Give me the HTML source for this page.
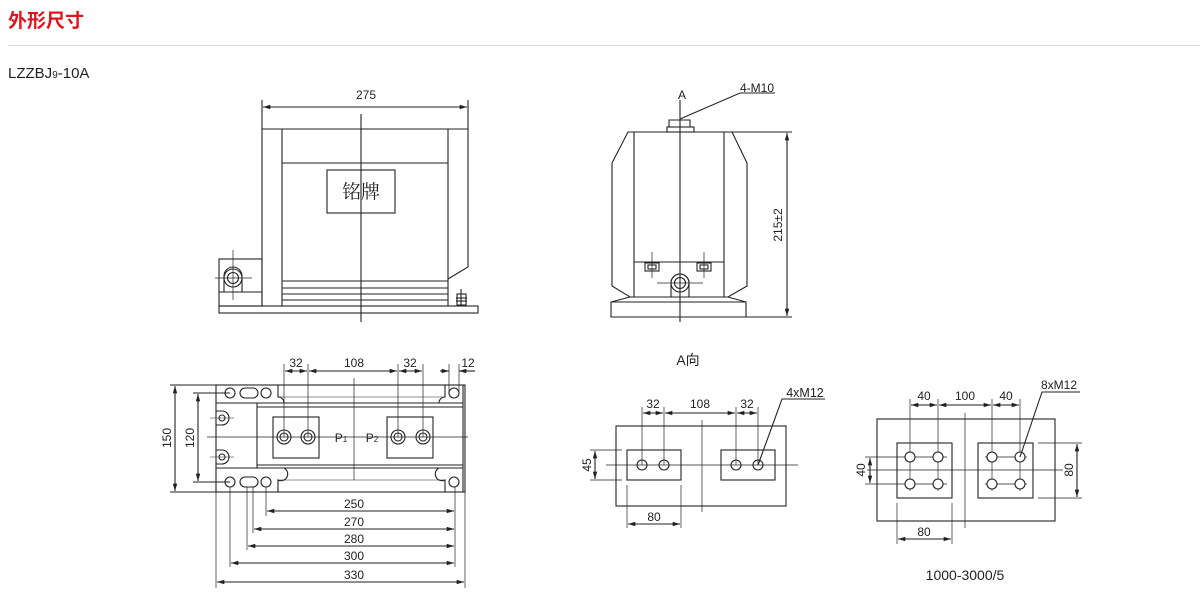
<!DOCTYPE html>
<html><head><meta charset="utf-8"><style>
body{margin:0;width:1200px;height:595px;background:#fff;overflow:hidden}
svg{display:block}
text{font-family:"Liberation Sans","Noto Sans CJK SC",sans-serif;fill:#222}
</style></head><body>
<svg width="1200" height="595" viewBox="0 0 1200 595" xmlns="http://www.w3.org/2000/svg">
<defs>
<marker id="a" viewBox="0 0 10 6" refX="10" refY="3" markerWidth="8" markerHeight="4" orient="auto-start-reverse"><path d="M0,0L10,3L0,6z" fill="#222"/></marker>
</defs>
<text x="8" y="27" font-size="19" font-weight="bold" style="fill:#e0141e">外形尺寸</text>
<line x1="8" y1="45.5" x2="1200" y2="45.5" stroke="#ddd"/>
<text x="8" y="78" font-size="15">LZZBJ<tspan font-size="10">9</tspan>-10A</text>

<g stroke="#222" fill="none" stroke-width="1.1">
<!-- front view -->
<line x1="262" y1="100" x2="262" y2="129"/><line x1="468" y1="100" x2="468" y2="129"/>
<line x1="263" y1="107" x2="467" y2="107" marker-start="url(#a)" marker-end="url(#a)"/>
<path d="M262,129H468V267L448,279"/>
<line x1="262" y1="129" x2="262" y2="306"/>
<line x1="282" y1="129" x2="282" y2="306"/><line x1="448" y1="129" x2="448" y2="306"/>
<line x1="282" y1="163" x2="448" y2="163"/>
<rect x="327" y="170" width="68" height="43"/>
<line x1="282" y1="281" x2="448" y2="281"/><line x1="282" y1="288" x2="448" y2="288"/>
<line x1="282" y1="294" x2="448" y2="294"/><line x1="282" y1="300" x2="448" y2="300"/>
<rect x="219" y="306" width="259" height="7"/>
<rect x="219" y="259" width="43" height="47"/>
<line x1="219" y1="292" x2="262" y2="292"/>
<path d="M224,292V276A9,9 0 0 1 242,276V292"/>
<circle cx="233" cy="278" r="9"/><circle cx="233" cy="278" r="5.5"/>
<line x1="215" y1="278" x2="252" y2="278" stroke-width=".7"/><line x1="233" y1="250" x2="233" y2="300" stroke-width=".7"/>
<line x1="361" y1="114" x2="361" y2="322"/>
<rect x="457" y="294" width="9" height="11"/><line x1="461" y1="289" x2="461" y2="306"/>
<line x1="456" y1="298" x2="467" y2="298"/><line x1="456" y1="301" x2="467" y2="301"/>

<!-- side view -->
<path d="M680,119L740,93H775"/>
<path d="M669,127V120H690V127"/><rect x="667" y="127" width="27" height="5"/>
<path d="M628,132H732L747,163V286L728,297H630L612,286V163Z"/>
<line x1="634" y1="132" x2="634" y2="297"/><line x1="724" y1="132" x2="724" y2="297"/>
<line x1="634" y1="262" x2="724" y2="262"/>
<rect x="645" y="263" width="14" height="8"/><rect x="648" y="265" width="8" height="4"/>
<rect x="697" y="263" width="14" height="8"/><rect x="700" y="265" width="8" height="4"/>
<line x1="652" y1="252" x2="652" y2="278" stroke-width=".7"/><line x1="704" y1="252" x2="704" y2="278" stroke-width=".7"/>
<path d="M671,297V283A9,9 0 0 1 689,283V297"/>
<circle cx="680" cy="283" r="9"/><circle cx="680" cy="283" r="5.5"/>
<line x1="657" y1="283" x2="703" y2="283" stroke-width=".7"/>
<path d="M630,297L611,302V317H746V302L728,297"/>
<line x1="611" y1="302" x2="746" y2="302"/>
<line x1="680" y1="100" x2="680" y2="322"/>
<line x1="732" y1="132" x2="792" y2="132"/><line x1="746" y1="317" x2="792" y2="317"/>
<line x1="787" y1="133" x2="787" y2="316" marker-start="url(#a)" marker-end="url(#a)"/>

<!-- bottom view -->
<rect x="216" y="385" width="249" height="107"/>
<line x1="216" y1="403" x2="463" y2="403"/><line x1="216" y1="468" x2="463" y2="468"/>
<line x1="257" y1="407" x2="463" y2="407"/><line x1="257" y1="465" x2="463" y2="465"/>
<line x1="257" y1="403" x2="257" y2="468"/><line x1="463" y1="385" x2="463" y2="492"/>
<path d="M278,385V397A6,6 0 0 1 284,403"/><path d="M445,385V397A6,6 0 0 0 439,403"/>
<line x1="278" y1="397" x2="445" y2="397" stroke-width=".6"/>
<path d="M278,492V480A6,6 0 0 0 284,468"/><path d="M445,492V480A6,6 0 0 1 439,468"/>
<line x1="278" y1="480" x2="445" y2="480" stroke-width=".6"/>
<circle cx="230" cy="393" r="5"/><rect x="240" y="388" width="18" height="10" rx="5"/><circle cx="266" cy="393" r="5"/><circle cx="454" cy="393" r="5"/>
<circle cx="230" cy="482" r="5"/><rect x="240" y="477" width="18" height="10" rx="5"/><circle cx="266" cy="482" r="5"/><circle cx="454" cy="482" r="5"/>
<path d="M216,411H222A7,7 0 0 1 222,425H216"/><circle cx="222" cy="418" r="3"/>
<path d="M216,450H222A7,7 0 0 1 222,464H216"/><circle cx="222" cy="457" r="3"/>
<line x1="210" y1="418" x2="234" y2="418" stroke-width=".6"/><line x1="210" y1="457" x2="234" y2="457" stroke-width=".6"/>
<rect x="273" y="417" width="46" height="41"/><rect x="387" y="417" width="46" height="41"/>
<circle cx="284" cy="437" r="7"/><circle cx="284" cy="437" r="4"/><circle cx="308" cy="437" r="7"/><circle cx="308" cy="437" r="4"/>
<circle cx="398" cy="437" r="7"/><circle cx="398" cy="437" r="4"/><circle cx="423" cy="437" r="7"/><circle cx="423" cy="437" r="4"/>
<line x1="207" y1="437" x2="468" y2="437" stroke-width=".7"/><line x1="354" y1="378" x2="354" y2="480" stroke-width=".7"/>
<line x1="284" y1="364" x2="284" y2="437" stroke-width=".7"/><line x1="308" y1="364" x2="308" y2="437" stroke-width=".7"/>
<line x1="398" y1="364" x2="398" y2="437" stroke-width=".7"/><line x1="423" y1="364" x2="423" y2="437" stroke-width=".7"/>
<line x1="449" y1="364" x2="449" y2="393" stroke-width=".7"/><line x1="459" y1="364" x2="459" y2="393" stroke-width=".7"/>
<line x1="285" y1="371" x2="307" y2="371" marker-start="url(#a)" marker-end="url(#a)"/>
<line x1="309" y1="371" x2="397" y2="371" marker-start="url(#a)" marker-end="url(#a)"/>
<line x1="399" y1="371" x2="422" y2="371" marker-start="url(#a)" marker-end="url(#a)"/>
<line x1="440" y1="371" x2="449" y2="371" marker-end="url(#a)"/><line x1="459" y1="371" x2="475" y2="371" marker-start="url(#a)"/>
<line x1="170" y1="385" x2="216" y2="385"/><line x1="170" y1="492" x2="216" y2="492"/>
<line x1="175" y1="386" x2="175" y2="491" marker-start="url(#a)" marker-end="url(#a)"/>
<line x1="193" y1="393" x2="230" y2="393"/><line x1="193" y1="482" x2="230" y2="482"/>
<line x1="198" y1="394" x2="198" y2="481" marker-start="url(#a)" marker-end="url(#a)"/>
<line x1="266" y1="487" x2="266" y2="516" stroke-width=".7"/>
<line x1="253" y1="487" x2="253" y2="533" stroke-width=".7"/>
<line x1="247" y1="487" x2="247" y2="550" stroke-width=".7"/>
<line x1="230" y1="487" x2="230" y2="567" stroke-width=".7"/>
<line x1="216" y1="492" x2="216" y2="588" stroke-width=".7"/>
<line x1="465" y1="492" x2="465" y2="588" stroke-width=".7"/>
<line x1="455" y1="487" x2="455" y2="567" stroke-width=".7"/>
<line x1="267" y1="511" x2="454" y2="511" marker-start="url(#a)" marker-end="url(#a)"/>
<line x1="254" y1="529" x2="454" y2="529" marker-start="url(#a)" marker-end="url(#a)"/>
<line x1="248" y1="546" x2="454" y2="546" marker-start="url(#a)" marker-end="url(#a)"/>
<line x1="231" y1="563" x2="454" y2="563" marker-start="url(#a)" marker-end="url(#a)"/>
<line x1="217" y1="582" x2="464" y2="582" marker-start="url(#a)" marker-end="url(#a)"/>

<!-- A view -->
<rect x="616" y="426" width="170" height="80"/>
<rect x="627" y="450" width="54" height="30"/><rect x="721" y="450" width="54" height="30"/>
<circle cx="642" cy="465" r="5"/><circle cx="664" cy="465" r="5"/><circle cx="736" cy="465" r="5"/><circle cx="758" cy="465" r="5"/>
<line x1="606" y1="465" x2="798" y2="465" stroke-width=".7"/><line x1="702" y1="420" x2="702" y2="512" stroke-width=".7"/>
<line x1="642" y1="407" x2="642" y2="465" stroke-width=".7"/><line x1="664" y1="407" x2="664" y2="465" stroke-width=".7"/>
<line x1="736" y1="407" x2="736" y2="465" stroke-width=".7"/><line x1="758" y1="407" x2="758" y2="465" stroke-width=".7"/>
<line x1="643" y1="413" x2="663" y2="413" marker-start="url(#a)" marker-end="url(#a)"/>
<line x1="665" y1="413" x2="735" y2="413" marker-start="url(#a)" marker-end="url(#a)"/>
<line x1="737" y1="413" x2="757" y2="413" marker-start="url(#a)" marker-end="url(#a)"/>
<path d="M758,465L782,399H825"/>
<line x1="590" y1="450" x2="622" y2="450" stroke-width=".7"/><line x1="590" y1="480" x2="622" y2="480" stroke-width=".7"/>
<line x1="595" y1="451" x2="595" y2="479" marker-start="url(#a)" marker-end="url(#a)"/>
<line x1="627" y1="485" x2="627" y2="528" stroke-width=".7"/><line x1="681" y1="485" x2="681" y2="528" stroke-width=".7"/>
<line x1="628" y1="524" x2="680" y2="524" marker-start="url(#a)" marker-end="url(#a)"/>

<!-- 1000-3000 view -->
<rect x="877" y="419" width="178" height="102"/>
<rect x="897" y="443" width="55" height="55"/><rect x="978" y="443" width="55" height="55"/>
<g stroke-width=".7">
<line x1="867" y1="470" x2="1063" y2="470"/><line x1="965" y1="413" x2="965" y2="528"/>
<line x1="910" y1="399" x2="910" y2="491"/><line x1="938" y1="399" x2="938" y2="491"/>
<line x1="992" y1="399" x2="992" y2="491"/><line x1="1020" y1="399" x2="1020" y2="491"/>
<line x1="865" y1="457" x2="947" y2="457"/><line x1="865" y1="484" x2="947" y2="484"/>
<line x1="985" y1="457" x2="1027" y2="457"/><line x1="985" y1="484" x2="1027" y2="484"/>
<line x1="1038" y1="443" x2="1082" y2="443"/><line x1="1038" y1="498" x2="1082" y2="498"/>
<line x1="897" y1="503" x2="897" y2="544"/><line x1="952" y1="503" x2="952" y2="544"/>
</g>
<g fill="#fff">
<circle cx="910" cy="457" r="5"/><circle cx="938" cy="457" r="5"/><circle cx="910" cy="484" r="5"/><circle cx="938" cy="484" r="5"/>
<circle cx="992" cy="457" r="5"/><circle cx="1020" cy="457" r="5"/><circle cx="992" cy="484" r="5"/><circle cx="1020" cy="484" r="5"/>
</g>
<line x1="911" y1="405" x2="937" y2="405" marker-start="url(#a)" marker-end="url(#a)"/>
<line x1="939" y1="405" x2="991" y2="405" marker-start="url(#a)" marker-end="url(#a)"/>
<line x1="993" y1="405" x2="1019" y2="405" marker-start="url(#a)" marker-end="url(#a)"/>
<path d="M1020,457L1042,392H1080"/>
<line x1="870" y1="458" x2="870" y2="483" marker-start="url(#a)" marker-end="url(#a)"/>
<line x1="1077" y1="444" x2="1077" y2="497" marker-start="url(#a)" marker-end="url(#a)"/>
<line x1="898" y1="539" x2="951" y2="539" marker-start="url(#a)" marker-end="url(#a)"/>
</g>

<g font-size="12" text-anchor="middle">
<text x="366" y="99">275</text>
<text x="361" y="198" font-size="19" style="font-family:'Noto Serif CJK SC',serif">铭牌</text>
<text x="682" y="99">A</text>
<text x="757" y="92">4-M10</text>
<text transform="translate(782,225) rotate(-90)">215±2</text>
<text x="688" y="365" font-size="14">A向</text>
<text x="296" y="367">32</text><text x="354" y="367">108</text><text x="410" y="367">32</text><text x="468" y="367">12</text>
<text x="341" y="442">P<tspan font-size="8">1</tspan></text><text x="372" y="442">P<tspan font-size="8">2</tspan></text>
<text transform="translate(171,438) rotate(-90)">150</text>
<text transform="translate(194,438) rotate(-90)">120</text>
<text x="354" y="508">250</text><text x="354" y="526">270</text><text x="354" y="543">280</text><text x="354" y="560">300</text><text x="354" y="579">330</text>
<text x="653" y="408">32</text><text x="700" y="408">108</text><text x="747" y="408">32</text>
<text x="805" y="397" font-size="12.5">4xM12</text>
<text transform="translate(591,465) rotate(-90)">45</text>
<text x="654" y="521">80</text>
<text x="924" y="400">40</text><text x="965" y="400">100</text><text x="1006" y="400">40</text>
<text x="1059" y="389">8xM12</text>
<text transform="translate(865,470) rotate(-90)">40</text>
<text transform="translate(1073,470) rotate(-90)">80</text>
<text x="924" y="536">80</text>
<text x="965" y="580" font-size="14">1000-3000/5</text>
</g>
</svg>
</body></html>
